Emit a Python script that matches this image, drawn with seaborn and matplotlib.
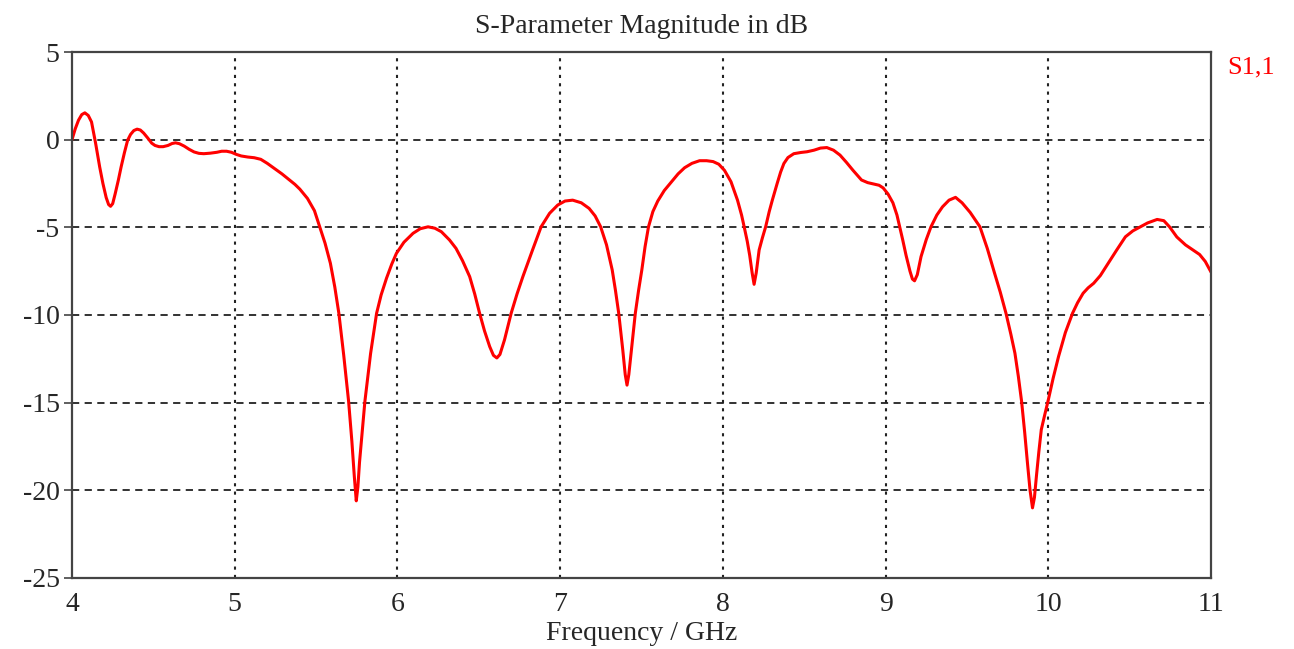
import pandas as pd
import seaborn as sns
import matplotlib.pyplot as plt

# S1,1 magnitude (GHz, dB)
freq_ghz = [
    4.00, 4.02, 4.04, 4.06, 4.079, 4.10, 4.12, 4.145, 4.17, 4.19, 4.21, 4.225,
    4.237, 4.25, 4.265, 4.285, 4.302, 4.322, 4.342, 4.36, 4.38, 4.40, 4.42, 4.44,
    4.465, 4.49, 4.51, 4.535, 4.56, 4.59, 4.615, 4.636, 4.66, 4.69, 4.72, 4.75,
    4.78, 4.81, 4.85, 4.89, 4.92, 4.95, 4.98, 5.01, 5.04, 5.08, 5.12, 5.16,
    5.20, 5.244, 5.29, 5.33, 5.37, 5.40, 5.447, 5.49, 5.522, 5.555, 5.588, 5.615,
    5.64, 5.67, 5.70, 5.72, 5.735, 5.747, 5.757, 5.767, 5.785, 5.80, 5.835, 5.872,
    5.90, 5.933, 5.965, 5.994, 6.04, 6.096, 6.14, 6.188, 6.23, 6.27, 6.32, 6.36,
    6.40, 6.444, 6.475, 6.505, 6.535, 6.567, 6.59, 6.611, 6.63, 6.658, 6.68, 6.699,
    6.735, 6.771, 6.83, 6.883, 6.935, 6.985, 7.03, 7.077, 7.13, 7.178, 7.215, 7.249,
    7.285, 7.32, 7.34, 7.36, 7.385, 7.40, 7.411, 7.422, 7.44, 7.462, 7.482, 7.502,
    7.522, 7.543, 7.57, 7.60, 7.64, 7.685, 7.725, 7.765, 7.81, 7.857, 7.90, 7.94,
    7.975, 8.01, 8.05, 8.09, 8.115, 8.131, 8.15, 8.165, 8.18, 8.192, 8.205, 8.223,
    8.243, 8.263, 8.285, 8.304, 8.334, 8.355, 8.375, 8.40, 8.436, 8.48, 8.517, 8.56,
    8.60, 8.639, 8.68, 8.72, 8.76, 8.80, 8.852, 8.89, 8.923, 8.96, 8.985, 9.015,
    9.045, 9.07, 9.087, 9.105, 9.126, 9.15, 9.165, 9.178, 9.195, 9.218, 9.25, 9.279,
    9.315, 9.35, 9.39, 9.43, 9.47, 9.52, 9.58, 9.625, 9.67, 9.705, 9.74, 9.77,
    9.795, 9.816, 9.836, 9.855, 9.872, 9.888, 9.903, 9.915, 9.927, 9.942, 9.957, 9.978,
    9.998, 10.03, 10.063, 10.105, 10.149, 10.18, 10.214, 10.245, 10.279, 10.32, 10.365, 10.42,
    10.474, 10.52, 10.56, 10.61, 10.669, 10.71, 10.745, 10.79, 10.843, 10.89, 10.93, 10.965,
    11.0,
]
s11_db = [
    0.0, 0.62, 1.11, 1.43, 1.53, 1.38, 1.01, -0.2, -1.55, -2.5, -3.3, -3.7,
    -3.8, -3.65, -3.1, -2.3, -1.55, -0.75, -0.03, 0.3, 0.52, 0.6, 0.55, 0.38,
    0.1, -0.2, -0.33, -0.4, -0.4, -0.33, -0.22, -0.18, -0.23, -0.37, -0.55, -0.7,
    -0.78, -0.8, -0.77, -0.72, -0.66, -0.66, -0.72, -0.84, -0.93, -0.99, -1.03, -1.12,
    -1.35, -1.64, -1.95, -2.25, -2.55, -2.82, -3.35, -4.05, -4.97, -5.9, -7.05, -8.4,
    -9.9, -12.3, -14.93, -17.2, -19.2, -20.6, -19.8, -18.4, -16.5, -14.93, -12.2, -9.9,
    -8.85, -7.9, -7.1, -6.48, -5.85, -5.34, -5.08, -4.97, -5.05, -5.25, -5.72, -6.2,
    -6.9, -7.81, -8.8, -9.9, -10.9, -11.8, -12.3, -12.45, -12.25, -11.42, -10.6, -9.9,
    -8.8, -7.81, -6.3, -4.97, -4.2, -3.73, -3.5, -3.45, -3.6, -3.92, -4.35, -4.97,
    -6.0, -7.43, -8.6, -9.9, -12.0, -13.4, -14.0, -13.4, -11.8, -9.9, -8.6, -7.43,
    -6.1, -4.97, -4.1, -3.5, -2.9, -2.4, -1.95, -1.6, -1.35, -1.2, -1.2, -1.25,
    -1.4, -1.75, -2.4, -3.45, -4.3, -4.97, -5.8, -6.6, -7.6, -8.25, -7.6, -6.29,
    -5.6, -4.97, -4.1, -3.45, -2.49, -1.85, -1.36, -1.02, -0.8, -0.73, -0.69, -0.6,
    -0.48, -0.45, -0.6, -0.88, -1.3, -1.75, -2.3, -2.45, -2.52, -2.6, -2.75, -3.1,
    -3.6, -4.3, -4.97, -5.7, -6.6, -7.5, -7.95, -8.05, -7.7, -6.67, -5.7, -4.97,
    -4.3, -3.83, -3.45, -3.29, -3.6, -4.15, -4.97, -6.2, -7.62, -8.7, -9.9, -11.1,
    -12.18, -13.5, -14.93, -16.7, -18.44, -20.0, -21.0, -20.4, -19.2, -17.8, -16.54, -15.7,
    -14.93, -13.6, -12.37, -11.0, -9.9, -9.3, -8.76, -8.45, -8.19, -7.75, -7.1, -6.3,
    -5.54, -5.2, -5.0, -4.75, -4.55, -4.62, -4.97, -5.55, -6.0, -6.3, -6.55, -6.95,
    -7.55,
]
x_ticks = [4, 5, 6, 7, 8, 9, 10, 11]
y_ticks = [5, 0, -5, -10, -15, -20, -25]

df = pd.DataFrame({"freq": freq_ghz, "s11": s11_db})

sns.set_theme(style="white")
plt.rcParams["font.family"] = ["Liberation Serif", "DejaVu Serif"]

fig = plt.figure(figsize=(12.94, 6.49), dpi=100)
ax = fig.add_axes([72 / 1294, 1 - 578 / 649, (1211 - 72) / 1294, (578 - 52) / 649])

sns.lineplot(data=df, x="freq", y="s11", ax=ax, color="#ff0000", linewidth=2.2,
             sort=False, estimator=None)

ax.set_xlim(4, 11)
ax.set_ylim(-25, 5)
ax.set_xticks(x_ticks)
ax.set_yticks(y_ticks)
ax.set_xticklabels([str(t) for t in x_ticks])
ax.set_yticklabels([str(t) for t in y_ticks])

# grid: dashed horizontal, dotted vertical
for t in y_ticks[1:-1]:
    ax.axhline(t, color="#222222", linewidth=1.3, linestyle=(0, (4, 3)), zorder=0)
for t in x_ticks[1:-1]:
    ax.axvline(t, color="#222222", linewidth=1.5, linestyle=(0, (1.5, 2.5)), zorder=0)

for side in ax.spines.values():
    side.set_color("#444444")
    side.set_linewidth(1.6)

ax.tick_params(axis="y", direction="out", length=6, width=1.2, color="#444444",
               labelsize=20, pad=3, left=True)
ax.tick_params(axis="x", length=0, labelsize=20, pad=10)

ax.set_title("S-Parameter Magnitude in dB", fontsize=20, pad=14)
ax.set_xlabel("Frequency / GHz", fontsize=20, labelpad=3)
ax.set_ylabel("")

ax.text(1.014, 0.97, "S1,1", transform=ax.transAxes, color="#ff0000",
        fontsize=19, ha="left", va="center")

plt.savefig("out.png", dpi=100)
